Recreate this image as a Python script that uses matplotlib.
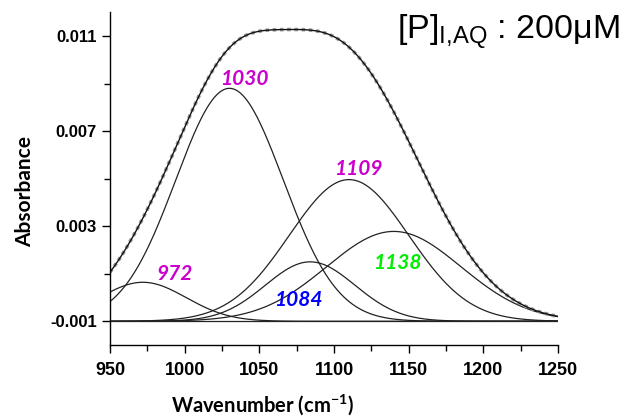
import numpy as np
import matplotlib
matplotlib.use("Agg")
import matplotlib.pyplot as plt
from matplotlib.ticker import MultipleLocator, FixedLocator

# ---- data (peak-fit components) ----
peak_labels = ["972", "1030", "1084", "1109", "1138"]
peak_centers = [972, 1030, 1084, 1110, 1140]          # cm^-1
peak_heights = [0.00164, 0.0098, 0.0025, 0.00596, 0.00378]  # above baseline
peak_sigmas = [29, 36, 30, 40, 45]
baseline = -0.001
label_colors = ["#cc00cc", "#cc00cc", "#0000ff", "#cc00cc", "#00ee00"]
label_x = [993, 1040, 1076, 1116, 1142]
label_y = [0.0010, 0.0092, -0.00012, 0.00542, 0.00143]

x_ticks = [950, 1000, 1050, 1100, 1150, 1200, 1250]
y_ticks = [-0.001, 0.003, 0.007, 0.011]
y_tick_labels = ["-0.001", "0.003", "0.007", "0.011"]

wn = np.linspace(950, 1250, 601)

fig = plt.figure(figsize=(6.25, 4.18), dpi=100)
ax = fig.add_axes([0.176, 0.1746, 0.717, 0.796])

components = []
for c, h, s in zip(peak_centers, peak_heights, peak_sigmas):
    comp = h * np.exp(-(wn - c) ** 2 / (2 * s ** 2))
    components.append(comp)
    ax.plot(wn, baseline + comp, color="#222222", lw=0.9)

ax.plot(wn, np.full_like(wn, baseline), color="#222222", lw=0.9)
total = baseline + np.sum(components, axis=0)
ax.plot(wn, total, color="#9a9a9a", lw=2.6, ls=(0, (1, 1)))
ax.plot(wn, total, color="#111111", lw=1.0)

for t, xx, yy, col in zip(peak_labels, label_x, label_y, label_colors):
    ax.text(xx, yy, t, color=col, fontsize=15, fontweight="bold",
            fontstyle="italic", ha="center", va="center",
            family="Lato")

ax.set_xlim(950, 1250)
ax.set_ylim(-0.002, 0.0120)
ax.xaxis.set_major_locator(FixedLocator(x_ticks))
ax.xaxis.set_minor_locator(MultipleLocator(25))
ax.yaxis.set_major_locator(FixedLocator(y_ticks))
ax.yaxis.set_minor_locator(FixedLocator([0.001, 0.005, 0.009]))
ax.set_yticklabels(y_tick_labels)
ax.set_xticklabels([str(v) for v in x_ticks])

for sp in ["top", "right"]:
    ax.spines[sp].set_visible(False)
for sp in ["left", "bottom"]:
    ax.spines[sp].set_linewidth(1.0)

ax.tick_params(which="major", direction="out", length=6, width=1)
ax.tick_params(which="minor", direction="out", length=4, width=1)
ax.tick_params(axis="x", pad=6)
for lab in ax.get_xticklabels():
    lab.set_fontweight("bold")
    lab.set_fontsize(13)
    lab.set_family("Liberation Sans")
for lab in ax.get_yticklabels():
    lab.set_fontweight("bold")
    lab.set_fontsize(12)
    lab.set_family("Liberation Sans")

ax.text(0.34, -0.178, "Wavenumber (cm$^{\\mathregular{-1}}$)", transform=ax.transAxes,
        fontsize=14.5, fontweight="bold", family="Lato", ha="center", va="center")
ax.text(-0.19, 0.46, "Absorbance", transform=ax.transAxes, rotation=90,
        fontsize=15, fontweight="bold", family="Lato", ha="center", va="center")

fig.text(0.992, 0.907, r"[P]$_{\mathregular{I{,}AQ}}$ : 200μM", fontsize=24.5,
         ha="right", va="baseline", family="Liberation Sans")

fig.savefig("out.png", dpi=100)
